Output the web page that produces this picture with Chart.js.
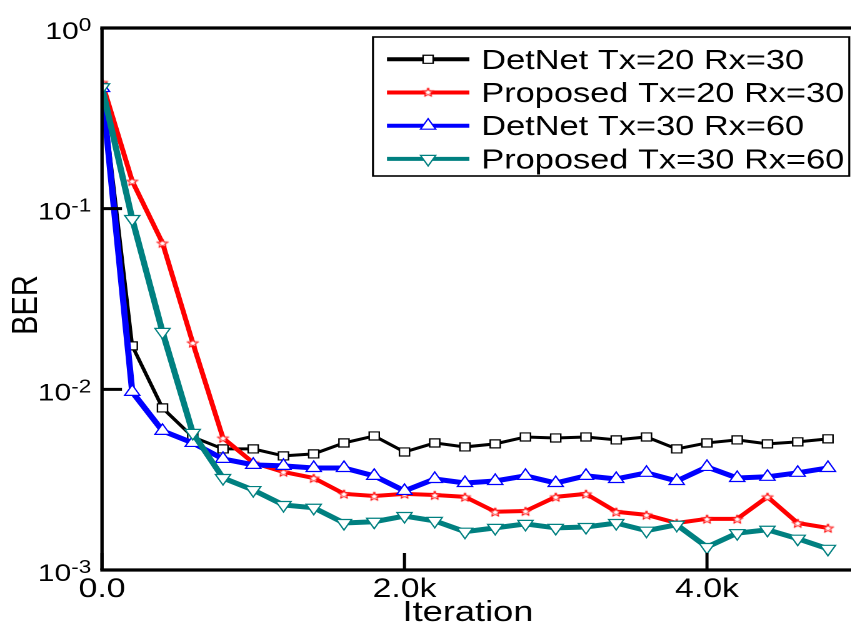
<!DOCTYPE html>
<html>
<head>
<meta charset="utf-8">
<script src="https://cdn.jsdelivr.net/npm/chart.js@4.4.1/dist/chart.umd.min.js"></script>
<style>
  body { margin: 0; background: #fff; }
  /* the original figure is stretched sideways, so the canvas is drawn narrow and scaled in x */
  #frame { width: 851px; height: 628px; overflow: hidden; }
  #stretch { width: 686px; height: 660px; transform: scaleX(1.25); transform-origin: 0 0; }
</style>
</head>
<body>
<div id="frame"><div id="stretch"><canvas id="chart" width="686" height="660"></canvas></div></div>
<script>
const iterations = [0, 200, 400, 600, 800, 1000, 1200, 1400, 1600, 1800, 2000, 2200, 2400,
    2600, 2800, 3000, 3200, 3400, 3600, 3800, 4000, 4200, 4400, 4600, 4800];

const detnet2030 = [0.47, 0.0174, 0.00789, 0.00545, 0.00468, 0.00468, 0.00428, 0.00439, 0.00505,
    0.00552, 0.00450, 0.00505, 0.00480, 0.00499, 0.00545, 0.00538, 0.00545, 0.00525, 0.00545,
    0.00468, 0.00505, 0.00525, 0.00499, 0.00512, 0.00532];
const proposed2030 = [0.5, 0.142, 0.0646, 0.0181, 0.00538, 0.00392, 0.00349, 0.00323, 0.00264,
    0.00257, 0.00264, 0.00260, 0.00254, 0.00210, 0.00212, 0.00254, 0.00264, 0.00210, 0.00202,
    0.00182, 0.00192, 0.00192, 0.00254, 0.00182, 0.00171];
const detnet3060 = [0.465, 0.00968, 0.00589, 0.00505, 0.00412, 0.00382, 0.00377, 0.00367, 0.00367,
    0.00332, 0.00274, 0.00319, 0.00303, 0.00311, 0.00332, 0.00303, 0.00332, 0.00319, 0.00345,
    0.00311, 0.00372, 0.00323, 0.00328, 0.00345, 0.00367];
const proposed3060 = [0.47, 0.0877, 0.0208, 0.00574, 0.00323, 0.00277, 0.00229, 0.00221, 0.00182,
    0.00185, 0.00199, 0.00187, 0.00163, 0.00171, 0.00180, 0.00171, 0.00173, 0.00182, 0.00165,
    0.00178, 0.00134, 0.00160, 0.00167, 0.00149, 0.00131];

const seriesNames = ['DetNet Tx=20 Rx=30', 'Proposed Tx=20 Rx=30', 'DetNet Tx=30 Rx=60', 'Proposed Tx=30 Rx=60'];

const xTickValues = [0, 2000, 4000];
const yTickValues = [1, 0.1, 0.01, 0.001];
const yTickExponents = ['0', '-1', '-2', '-3'];

const fontFamily = '"Liberation Sans", Arial, sans-serif';

// hollow five point star, used as a point style
function starImage(color) {
    const c = document.createElement('canvas');
    c.width = 12;
    c.height = 12;
    const g = c.getContext('2d');
    g.beginPath();
    for (let k = 0; k < 10; k++) {
        const r = k % 2 ? 1.9 : 4.7;
        const a = -Math.PI / 2 + k * Math.PI / 5;
        const px = 6 + r * Math.cos(a);
        const py = 6.6 + r * Math.sin(a);
        if (k === 0) g.moveTo(px, py); else g.lineTo(px, py);
    }
    g.closePath();
    g.fillStyle = '#fff';
    g.fill();
    g.strokeStyle = color;
    g.lineWidth = 1;
    g.stroke();
    return c;
}
const redStar = starImage('#ff0000');

function points(values) {
    return iterations.map((x, i) => ({x: x, y: values[i]}));
}

const datasets = [{
    label: seriesNames[0],
    data: points(detnet2030),
    borderColor: '#000000',
    borderWidth: 3,
    pointStyle: 'rect',
    pointRadius: 5.7,
    pointBorderWidth: 1.2,
    pointBorderColor: '#000000',
    pointBackgroundColor: '#ffffff',
    order: 3
}, {
    label: seriesNames[1],
    data: points(proposed2030),
    borderColor: '#ff0000',
    borderWidth: 4,
    pointStyle: redStar,
    pointRadius: 5,
    order: 2
}, {
    label: seriesNames[2],
    data: points(detnet3060),
    borderColor: '#0000ff',
    borderWidth: 5,
    pointStyle: 'triangle',
    pointRadius: 7,
    pointBorderWidth: 1.2,
    pointBorderColor: '#0000ff',
    pointBackgroundColor: '#ffffff',
    order: 1
}, {
    label: seriesNames[3],
    data: points(proposed3060),
    borderColor: '#008080',
    borderWidth: 5,
    pointStyle: 'triangle',
    pointRotation: 180,
    pointRadius: 7,
    pointBorderWidth: 1.2,
    pointBorderColor: '#008080',
    pointBackgroundColor: '#ffffff',
    order: 0
}];

function drawMarker(ctx, ds, x, y) {
    if (ds.pointStyle === redStar) {
        ctx.drawImage(redStar, x - 6, y - 6.6);
        return;
    }
    ctx.save();
    ctx.fillStyle = '#fff';
    ctx.strokeStyle = ds.pointBorderColor;
    ctx.lineWidth = ds.pointBorderWidth;
    ctx.beginPath();
    if (ds.pointStyle === 'rect') {
        const s = ds.pointRadius * Math.SQRT1_2;
        ctx.rect(x - s, y - s, 2 * s, 2 * s);
    } else {
        const r = ds.pointRadius;
        const d = ds.pointRotation ? -1 : 1;
        ctx.moveTo(x, y - d * r);
        ctx.lineTo(x + 0.866 * r, y + d * 0.5 * r);
        ctx.lineTo(x - 0.866 * r, y + d * 0.5 * r);
        ctx.closePath();
    }
    ctx.fill();
    ctx.stroke();
    ctx.restore();
}

const decor = {
    id: 'decor',
    afterDatasetsDraw(chart) {
        const ctx = chart.ctx;
        const a = chart.chartArea;
        const xs = chart.scales.x;
        const ys = chart.scales.y;
        ctx.save();
        ctx.fillStyle = '#000';
        ctx.strokeStyle = '#000';

        // frame (right side falls outside the picture)
        ctx.lineWidth = 3.2;
        ctx.beginPath();
        ctx.moveTo(a.left - 1.4, a.top); ctx.lineTo(a.right + 6, a.top);
        ctx.moveTo(a.left - 1.4, a.bottom); ctx.lineTo(a.right + 6, a.bottom);
        ctx.stroke();
        ctx.lineWidth = 2.7;
        ctx.beginPath();
        ctx.moveTo(a.left, a.top); ctx.lineTo(a.left, a.bottom);
        ctx.stroke();

        // inner ticks
        ctx.lineWidth = 3;
        ctx.beginPath();
        yTickValues.forEach(v => {
            const py = ys.getPixelForValue(v);
            ctx.moveTo(a.left, py); ctx.lineTo(a.left + 16, py);
        });
        ctx.stroke();
        ctx.lineWidth = 2.5;
        ctx.beginPath();
        xTickValues.forEach(v => {
            const px = xs.getPixelForValue(v);
            ctx.moveTo(px, a.bottom); ctx.lineTo(px, a.bottom - 17);
        });
        ctx.stroke();

        // y labels as powers of ten
        const baseFont = '24px ' + fontFamily;
        const supFont = '18px ' + fontFamily;
        ctx.textAlign = 'left';
        ctx.textBaseline = 'alphabetic';
        yTickValues.forEach((v, i) => {
            const py = ys.getPixelForValue(v);
            ctx.font = supFont;
            const sw = ctx.measureText(yTickExponents[i]).width;
            ctx.font = baseFont;
            const bw = ctx.measureText('10').width;
            ctx.fillText('10', 73 - sw - bw, py + 11);
            ctx.font = supFont;
            ctx.fillText(yTickExponents[i], 73 - sw, py + 3);
        });

        // axis titles
        ctx.font = '29px ' + fontFamily;
        ctx.textAlign = 'center';
        ctx.fillText('Iteration', 374.4, 621);
        ctx.save();
        ctx.translate(21.6, 305);
        ctx.rotate(-Math.PI / 2);
        ctx.textBaseline = 'middle';
        ctx.fillText('BER', 0, 0);
        ctx.restore();

        // boxed legend
        ctx.fillStyle = '#fff';
        ctx.fillRect(298.4, 37, 381, 139);
        ctx.lineWidth = 1.6;
        ctx.strokeRect(298.4, 37, 381, 139);
        ctx.font = '27.5px ' + fontFamily;
        ctx.textAlign = 'left';
        chart.data.datasets.forEach((ds, i) => {
            const ry = 59.3 + i * 33.2;
            ctx.strokeStyle = ds.borderColor;
            ctx.lineWidth = 4;
            ctx.beginPath();
            ctx.moveTo(309.6, ry); ctx.lineTo(375.5, ry);
            ctx.stroke();
            drawMarker(ctx, ds, 342.5, ry);
            ctx.fillStyle = '#000';
            ctx.fillText(ds.label, 385, ry + 9.5);
        });
        ctx.restore();
    }
};

const config = {
    type: 'line',
    data: {datasets: datasets},
    options: {
        responsive: false,
        animation: false,
        devicePixelRatio: 2,
        layout: {padding: {left: 81.6, top: 28, right: 2, bottom: 51}},
        plugins: {legend: {display: false}, tooltip: {enabled: false}},
        elements: {line: {tension: 0}},
        scales: {
            x: {
                type: 'linear',
                min: 0,
                max: 4921,
                afterBuildTicks: scale => { scale.ticks = xTickValues.map(v => ({value: v})); },
                grid: {display: false, drawTicks: false},
                border: {display: false},
                ticks: {
                    autoSkip: false,
                    maxRotation: 0,
                    padding: 6,
                    color: '#000',
                    font: {family: fontFamily, size: 27, lineHeight: 1},
                    callback: v => v === 0 ? '0.0' : (v / 1000).toFixed(1) + 'k'
                }
            },
            y: {
                type: 'logarithmic',
                min: 0.001,
                max: 1,
                display: false
            }
        }
    },
    plugins: [decor]
};

const berChart = new Chart(document.getElementById('chart'), config);
</script>
</body>
</html>
